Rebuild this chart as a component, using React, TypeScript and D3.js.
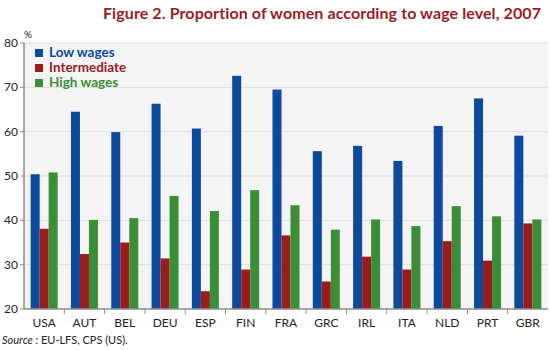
import React, { useEffect, useRef } from 'react';
import * as d3 from 'd3';

const countries = ['USA', 'AUT', 'BEL', 'DEU', 'ESP', 'FIN', 'FRA', 'GRC', 'IRL', 'ITA', 'NLD', 'PRT', 'GBR'];
const lowWages = [50.4, 64.5, 59.9, 66.3, 60.7, 72.6, 69.5, 55.6, 56.8, 53.4, 61.3, 67.5, 59.1];
const intermediate = [38.1, 32.4, 35.0, 31.4, 24.0, 28.9, 36.6, 26.2, 31.8, 28.9, 35.3, 30.9, 39.3];
const highWages = [50.8, 40.1, 40.5, 45.5, 42.1, 46.8, 43.4, 37.9, 40.2, 38.7, 43.2, 40.9, 40.2];
const seriesNames = ['Low wages', 'Intermediate', 'High wages'];
const colors = ['#0b4a9c', '#9a1c1c', '#3a8e35'];
const yTicks = [20, 30, 40, 50, 60, 70, 80];

const App = () => {
  const ref = useRef<SVGSVGElement | null>(null);

  useEffect(() => {
    const width = 550;
    const height = 350;
    const margin = { top: 43, right: 2, bottom: 41, left: 24 };
    const innerW = width - margin.left - margin.right;
    const innerH = height - margin.top - margin.bottom;
    const font = 'Lato, "Open Sans", sans-serif';

    const svg = d3.select(ref.current);
    svg.selectAll('*').remove();

    // title
    svg.append('text')
      .attr('x', 322).attr('y', 19)
      .attr('text-anchor', 'middle')
      .style('font-family', font).style('font-weight', 'bold').style('font-size', '16px')
      .style('letter-spacing', '0.1px')
      .style('fill', '#9b1c22')
      .text('Figure 2. Proportion of women according to wage level, 2007');

    const g = svg.append('g').attr('transform', `translate(${margin.left},${margin.top})`);

    g.append('rect').attr('width', innerW).attr('height', innerH).attr('fill', '#f4f4f4');

    const x0 = d3.scaleBand().domain(countries).range([0, innerW]).paddingInner(0.33).paddingOuter(0.165);
    const x1 = d3.scaleBand().domain(seriesNames).range([0, x0.bandwidth()]);
    const y = d3.scaleLinear().domain([20, 80]).range([innerH, 0]);

    // grid
    g.selectAll('line.grid').data(yTicks.slice(1)).enter().append('line')
      .attr('x1', 0).attr('x2', innerW)
      .attr('y1', d => y(d)).attr('y2', d => y(d))
      .attr('stroke', '#dedede').attr('stroke-width', 1);

    const series = [lowWages, intermediate, highWages];
    series.forEach((vals, si) => {
      g.append('g').selectAll('rect').data(vals).enter().append('rect')
        .attr('x', (d, i) => (x0(countries[i]) as number) + (x1(seriesNames[si]) as number))
        .attr('y', d => y(d))
        .attr('width', x1.bandwidth())
        .attr('height', d => innerH - y(d))
        .attr('fill', colors[si]);
    });

    // axes
    g.append('line').attr('x1', 0).attr('x2', 0).attr('y1', 0).attr('y2', innerH).attr('stroke', '#8c8c8c').attr('stroke-width', 1.5);
    g.append('line').attr('x1', 0).attr('x2', innerW).attr('y1', innerH).attr('y2', innerH).attr('stroke', '#8c8c8c').attr('stroke-width', 1.5);

    const step = innerW / countries.length;
    g.selectAll('line.tick').data(d3.range(1, countries.length)).enter().append('line')
      .attr('x1', d => d * step).attr('x2', d => d * step)
      .attr('y1', innerH).attr('y2', innerH + 5)
      .attr('stroke', '#8c8c8c');
    g.selectAll('line.ytick').data(yTicks).enter().append('line')
      .attr('x1', -4).attr('x2', 0).attr('y1', d => y(d)).attr('y2', d => y(d))
      .attr('stroke', '#8c8c8c');

    g.selectAll('text.ylab').data(yTicks).enter().append('text')
      .attr('x', -6).attr('y', d => y(d) + 4)
      .attr('text-anchor', 'end')
      .style('font-family', font).style('font-size', '12px').style('fill', '#222')
      .text(d => d);

    g.selectAll('text.xlab').data(countries).enter().append('text')
      .attr('x', d => (x0(d) as number) + x0.bandwidth() / 2)
      .attr('y', innerH + 18)
      .attr('text-anchor', 'middle')
      .style('font-family', font).style('font-size', '12px').style('fill', '#222')
      .text(d => d);

    svg.append('text').attr('x', 24).attr('y', 38)
      .style('font-family', font).style('font-size', '10px').style('fill', '#222').text('%');

    // legend
    seriesNames.forEach((name, i) => {
      const ly = 57 + i * 15;
      svg.append('rect').attr('x', 35).attr('y', ly - 8).attr('width', 8).attr('height', 8).attr('fill', colors[i]);
      svg.append('text').attr('x', 49).attr('y', ly)
        .style('font-family', font).style('font-weight', 'bold').style('font-size', '13.5px')
        .style('fill', colors[i]).text(name);
    });

    // source
    const src = svg.append('text').attr('x', 2).attr('y', 344)
      .style('font-family', font).style('font-size', '11px').style('fill', '#222');
    src.append('tspan').style('font-style', 'italic').text('Source :');
    src.append('tspan').text('  EU-LFS, CPS (US).');
  }, []);

  return (
    <svg ref={ref} width={550} height={350} style={{ position: 'absolute', left: 0, top: 0, background: '#fff' }} />
  );
};

export default App;
